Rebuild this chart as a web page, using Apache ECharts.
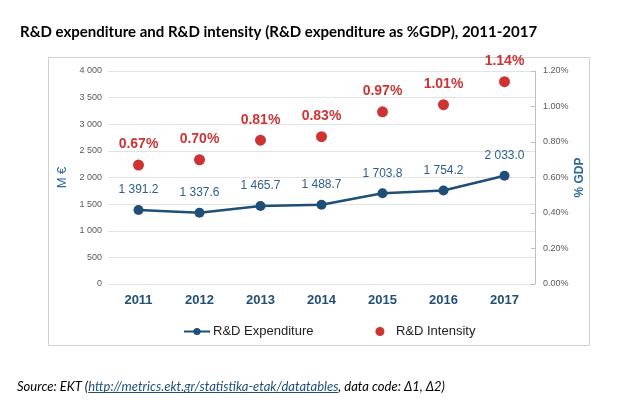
<!DOCTYPE html>
<html><head><meta charset="utf-8">
<script src="https://cdn.jsdelivr.net/npm/echarts@6/dist/echarts.min.js"></script>
<style>html,body{margin:0;padding:0;background:#fff}#c{width:621px;height:411px}</style>
</head><body><div id="c"></div>
<script>
var years = ['2011','2012','2013','2014','2015','2016','2017'];
var expenditure = [1391.2, 1337.6, 1465.7, 1488.7, 1703.8, 1754.2, 2033.0];
var intensity = [0.67, 0.70, 0.81, 0.83, 0.97, 1.01, 1.14];
var leftTicks = {min: 0, max: 4000, interval: 500};
var rightTicks = {min: 0, max: 1.2, interval: 0.2};
var srcA = 'Source: EKT (';
var srcLink = 'http://metrics.ekt.gr/statistika-etak/datatables';
var srcB = ', data code: Δ1, Δ2)';

function fmtThousands(v, dec) {
  var s = v.toFixed(dec);
  var parts = s.split('.');
  parts[0] = parts[0].replace(/\B(?=(\d{3})+(?!\d))/g, ' ');
  return parts.join('.');
}
var srcFont = 'italic 13px Lato';
var ctx = document.createElement('canvas').getContext('2d');
ctx.font = srcFont;
var srcX = 17;
var linkX0 = srcX + ctx.measureText(srcA).width;
var linkX1 = linkX0 + ctx.measureText(srcLink).width;

var chart = echarts.init(document.getElementById('c'), null, {renderer: 'canvas'});
var F = 'Liberation Sans, Arial, sans-serif';
chart.setOption({
  animation: false,
  backgroundColor: '#fff',
  title: {
    text: 'R&D expenditure and R&D intensity (R&D expenditure as %GDP), 2011-2017',
    left: 15, top: 20,
    textStyle: {fontFamily: 'Lato', fontWeight: 'bold', fontSize: 15, color: '#000'}
  },
  graphic: [
    {type: 'rect', shape: {x: 48.5, y: 57.5, width: 541, height: 288},
     style: {fill: 'none', stroke: '#d0d0d0', lineWidth: 1}, silent: true},
    {type: 'text', x: srcX, y: 380,
     style: {text: '{a|' + srcA + '}{b|' + srcLink + '}{a|' + srcB + '}',
       rich: {
         a: {fontFamily: 'Lato', fontStyle: 'italic', fontSize: 13, fill: '#000'},
         b: {fontFamily: 'Lato', fontStyle: 'italic', fontSize: 13, fill: '#1f4e79'}
       }}},
    {type: 'line', shape: {x1: linkX0, y1: 392.5, x2: linkX1, y2: 392.5},
     style: {stroke: '#1f4e79', lineWidth: 1}, silent: true}
  ],
  legend: {
    top: 320, left: 178, itemGap: 62,
    itemWidth: 26, itemHeight: 9,
    textStyle: {fontFamily: F, fontSize: 13, color: '#222', padding: [0, 0, 0, -2]},
    data: [{name: 'R&D Expenditure'}, {name: 'R&D Intensity', itemStyle: {color: '#c00000'}}]
  },
  grid: {left: 108, right: 86, top: 71, bottom: 127},
  xAxis: {
    type: 'category', data: years,
    axisLine: {show: false}, axisTick: {show: false},
    axisLabel: {margin: 10, fontFamily: F, fontWeight: 'bold', fontSize: 13, color: '#1f4e79'}
  },
  yAxis: [
    {type: 'value', min: leftTicks.min, max: leftTicks.max, interval: leftTicks.interval,
     name: 'M €', nameLocation: 'middle', nameGap: 36, nameRotate: 90,
     nameTextStyle: {fontFamily: F, fontSize: 13, color: '#2e6a9a'},
     axisLine: {show: false}, axisTick: {show: false},
     axisLabel: {fontFamily: F, fontSize: 9, color: '#595959', margin: 6,
       formatter: function (v) { return fmtThousands(v, 0); }},
     splitLine: {lineStyle: {color: '#e3e3e3'}}},
    {type: 'value', min: rightTicks.min, max: rightTicks.max, interval: rightTicks.interval,
     name: '% GDP', nameLocation: 'middle', nameGap: 39, nameRotate: 90, nameMoveOverlap: false,
     nameTextStyle: {fontFamily: F, fontSize: 12, fontWeight: 'bold', color: '#2e6a9a'},
     axisLine: {show: true, lineStyle: {color: '#bfbfbf'}},
     axisTick: {show: true, inside: true, length: 4, lineStyle: {color: '#bfbfbf'}},
     axisLabel: {fontFamily: F, fontSize: 9, color: '#595959', margin: 8,
       formatter: function (v) { return v.toFixed(2) + '%'; }},
     splitLine: {show: false}}
  ],
  series: [
    {name: 'R&D Expenditure', type: 'line', yAxisIndex: 0, data: expenditure,
     symbol: 'circle', symbolSize: 10,
     lineStyle: {color: '#1f4e79', width: 2.5},
     itemStyle: {color: '#1f4e79'},
     label: {show: true, position: 'top', distance: 9, fontFamily: F, fontSize: 12, color: '#2e5f8a',
       formatter: function (p) { return fmtThousands(p.value, 1); }}},
    {name: 'R&D Intensity', type: 'scatter', yAxisIndex: 1, data: intensity,
     symbol: 'circle', symbolSize: 11,
     itemStyle: {color: '#c00000'},
     label: {show: true, position: 'top', distance: 8, fontFamily: F, fontSize: 14, fontWeight: 'bold', color: '#c00000',
       formatter: function (p) { return p.value.toFixed(2) + '%'; }}}
  ]
});
</script></body></html>
